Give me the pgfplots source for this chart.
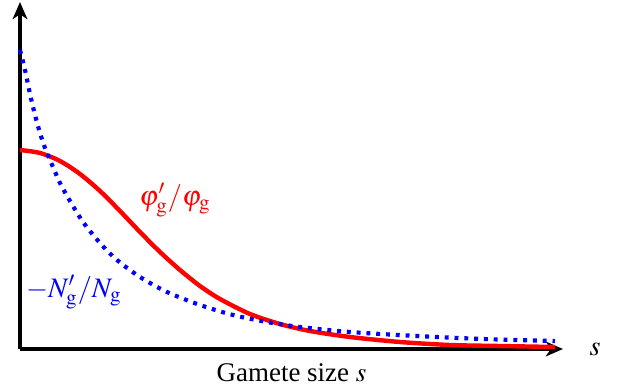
\documentclass[border=0pt]{standalone}
\usepackage{mathptmx}
\usepackage{pgfplots}
\pgfplotsset{compat=1.18}
\usetikzlibrary{arrows.meta}
\usepackage{fontspec}
\setmainfont{Liberation Serif}
\begin{document}
\begin{tikzpicture}
\begin{axis}[
  x=0.408pt, y=0.408pt,
  xmin=0, xmax=543, ymin=0, ymax=347,
  axis lines=left,
  axis line style={line width=1.4pt, -{Stealth[length=7pt,width=6pt,inset=2pt]}},
  ticks=none,
  clip=false,
  xlabel={Gamete size $s$},
  xlabel style={at={(axis cs:271.5,-33)}, anchor=base, font=\fontsize{11}{13}\selectfont},
]
\path (axis cs:-20,-43) rectangle (axis cs:597,349);
\addplot[red, line width=1.8pt, smooth] coordinates {
(0,199) (20,196) (40,188) (60,175) (80,158) (100,138) (120,117) (140,97)
(160,79) (180,63) (200,50) (230,35) (260,25) (290,18) (330,12) (380,7)
(430,4) (480,3) (535,2)
};
\addplot[blue, line width=1.7pt, dash pattern=on 1.6pt off 2.4pt, smooth] coordinates {
(0,299) (5,279) (10,255) (15,234) (20,216) (25,201) (30,189) (40,166) (50,148)
(63,127) (80,106) (97,89) (120,72) (147,57) (180,44) (213,34) (247,27)
(280,22) (330,17) (397,13) (463,10) (535,8)
};
\node[red, font=\fontsize{11.5}{14}\selectfont] at (axis cs:155,149) {$\varphi_{\mathrm{g}}'/\varphi_{\mathrm{g}}$};
\node[blue, font=\fontsize{11.5}{14}\selectfont] at (axis cs:54,57) {$-N_{\mathrm{g}}'/N_{\mathrm{g}}$};
\node[font=\fontsize{11.5}{14}\selectfont] at (axis cs:575,0) {$s$};
\end{axis}
\end{tikzpicture}
\end{document}
